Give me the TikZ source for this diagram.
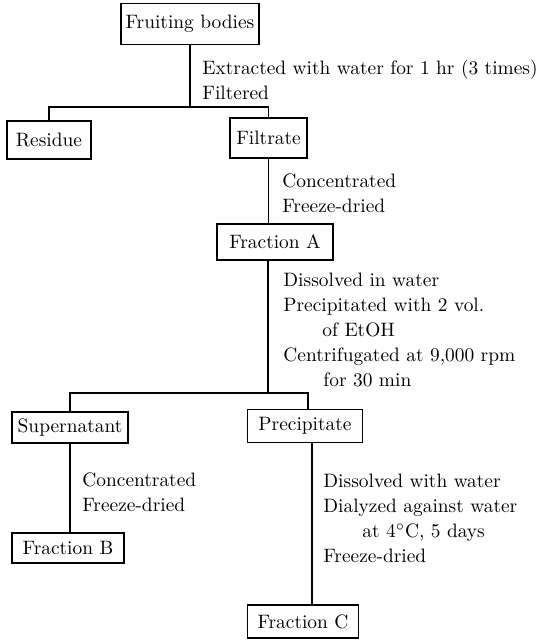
\documentclass[tikz,border=0pt]{standalone}
\usetikzlibrary{positioning}
\begin{document}
\begin{tikzpicture}[
  x=0.5pt, y=-0.5pt,
  box/.style={draw, line width=0.8pt, inner sep=0pt, minimum height=17pt,
              font=\fontsize{9.7}{12.5}\selectfont},
  note/.style={anchor=west, align=left, inner sep=0pt,
               font=\fontsize{9.7}{12.5}\selectfont},
  link/.style={line width=0.8pt}
]
\useasboundingbox (0,0) rectangle (536,640);
\node[box, minimum width=69pt, minimum height=20.5pt] (fruit) at (190,24) {Fruiting bodies};
\node[box, minimum width=42pt, minimum height=19pt] (residue) at (49,140) {Residue};
\node[box, minimum width=38.5pt, minimum height=20pt] (filtrate) at (268.5,138) {Filtrate};
\node[box, minimum width=58pt, minimum height=18pt] (fracA) at (275,242) {Fraction A};
\node[box, minimum width=58pt, minimum height=15.5pt] (super) at (70,427.5) {Supernatant};
\node[box, minimum width=57.5pt, minimum height=16.5pt] (precip) at (305,426) {Precipitate};
\node[box, minimum width=56pt, minimum height=15pt] (fracB) at (68,548) {Fraction B};
\node[box, minimum width=55.5pt, minimum height=16.5pt] (fracC) at (303,621.5) {Fraction C};
\coordinate (s1) at (190,107);
\coordinate (s2) at (268,393);
\draw[link] (fruit.south) -- (s1);
\draw[link] (residue.north) |- (s1) -| (filtrate.north);
\draw[link] (filtrate.south) -- (filtrate.south |- fracA.north);
\draw[link] (s2 |- fracA.south) -- (s2);
\draw[link] (super.north) |- (s2) -| ([xshift=1.5pt]precip.north);
\draw[link] (super.south) -- (super.south |- fracB.north);
\draw[link] ([xshift=3.5pt]precip.south) -- ([xshift=3.5pt]precip.south |- fracC.north);
\node[note] (extract) at (202,80) {Extracted with water for 1 hr (3 times)\\Filtered};
\node[note] (conc1) at (282,193.5) {Concentrated\\Freeze-dried};
\node[note] (etoh) at (283,330) {Dissolved in water\\Precipitated with 2 vol.\\
  \hspace*{19.5pt}of EtOH\\Centrifugated at 9,000 rpm\\\hspace*{20pt}for 30 min};
\node[note] (conc2) at (82,492.5) {Concentrated\\Freeze-dried};
\node[note] (dialyze) at (323,518.5) {Dissolved with water\\Dialyzed against water\\
  \hspace*{19.5pt}at 4$^{\circ}$C, 5 days\\Freeze-dried};
\end{tikzpicture}
\end{document}
